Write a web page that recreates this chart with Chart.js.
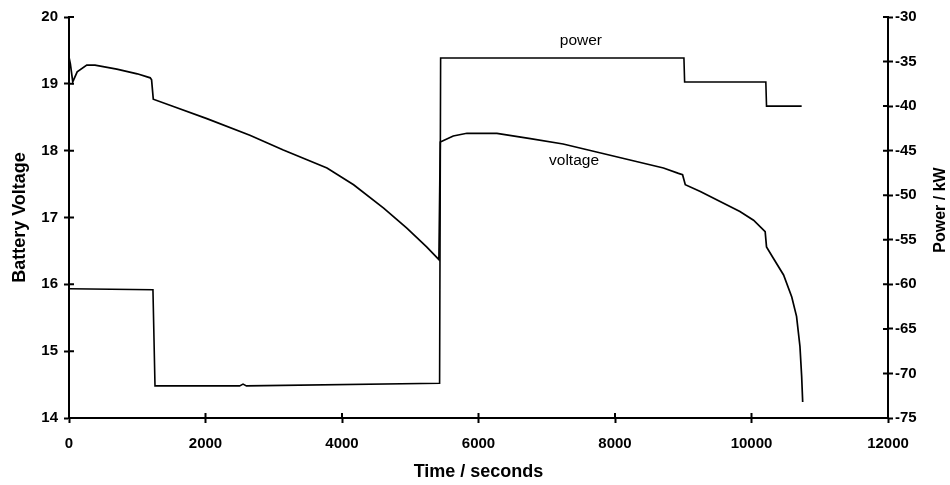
<!DOCTYPE html>
<html>
<head>
<meta charset="utf-8">
<script src="https://cdn.jsdelivr.net/npm/chart.js@4.4.1/dist/chart.umd.min.js"></script>
<style>
  html, body { margin: 0; padding: 0; background: #fff; }
  #wrap { width: 950px; height: 485px; }
</style>
</head>
<body>
<div id="wrap"><canvas id="batteryChart" width="950" height="485"></canvas></div>
<script>
// battery voltage trace (time in seconds)
const voltTime = [0, 20, 55, 120, 260, 380, 700, 1000, 1190, 1210, 1235, 1530, 2020, 2650, 3140, 3780, 4170, 4610, 4950, 5240, 5420, 5440, 5630, 5830, 6270, 6760, 7240, 7730, 8220, 8710, 8930, 8990, 9030, 9250, 9540, 9830, 10030, 10200, 10220, 10320, 10470, 10590, 10660, 10710, 10735, 10750];
const voltage = [19.4, 19.3, 19.03, 19.18, 19.28, 19.28, 19.22, 19.15, 19.09, 19.06, 18.77, 18.66, 18.48, 18.23, 18.01, 17.74, 17.49, 17.14, 16.84, 16.56, 16.37, 18.13, 18.22, 18.26, 18.26, 18.18, 18.10, 17.98, 17.86, 17.74, 17.66, 17.64, 17.49, 17.39, 17.24, 17.09, 16.96, 16.79, 16.56, 16.39, 16.14, 15.81, 15.52, 15.07, 14.62, 14.24];

// power demand profile (kW)
const powerTime = [0, 1230, 1260, 2500, 2550, 2600, 5430, 5445, 9010, 9020, 10210, 10220, 10735];
const power = [-60.5, -60.6, -71.4, -71.4, -71.2, -71.4, -71.1, -34.6, -34.6, -37.3, -37.3, -40.0, -40.0];

const xTicks = [0, 2000, 4000, 6000, 8000, 10000, 12000];
const voltTicks = [14, 15, 16, 17, 18, 19, 20];
const powerTicks = [-75, -70, -65, -60, -55, -50, -45, -40, -35, -30];

const curveLabels = [
    { text: 'power', x: 7500, y: 19.64 },
    { text: 'voltage', x: 7400, y: 17.85 }
];

const fontFamily = '"Liberation Sans", Arial, sans-serif';
const tickFont = { family: fontFamily, size: 15, weight: 'bold' };
const titleFont = { family: fontFamily, size: 18, weight: 'bold' };

// ticks that cross the axis line, right-hand title, in-plot labels
const extras = {
    id: 'extras',
    afterDraw(chart) {
        const c = chart.ctx;
        const { x, y, y2 } = chart.scales;
        c.save();
        c.strokeStyle = '#000';
        c.lineWidth = 2;
        c.beginPath();
        xTicks.forEach(v => {
            const px = x.getPixelForValue(v);
            c.moveTo(px, y.bottom);
            c.lineTo(px, y.bottom - 5);
        });
        voltTicks.forEach(v => {
            const py = y.getPixelForValue(v);
            c.moveTo(x.left, py);
            c.lineTo(x.left + 5, py);
        });
        powerTicks.forEach(v => {
            const py = y2.getPixelForValue(v);
            c.moveTo(x.right, py);
            c.lineTo(x.right - 5, py);
        });
        c.stroke();

        c.fillStyle = '#000';
        c.textAlign = 'center';
        c.textBaseline = 'middle';
        c.font = '15.5px ' + fontFamily;
        curveLabels.forEach(l => {
            c.fillText(l.text, x.getPixelForValue(l.x), y.getPixelForValue(l.y));
        });

        c.translate(941, 210);
        c.rotate(-Math.PI / 2);
        c.font = 'bold 16px ' + fontFamily;
        c.fillText('Power / kW', 0, 0);
        c.restore();
    }
};

const ctx = document.getElementById('batteryChart').getContext('2d');

new Chart(ctx, {
    type: 'line',
    data: {
        datasets: [{
            label: 'voltage',
            data: voltTime.map((t, i) => ({ x: t, y: voltage[i] })),
            yAxisID: 'y',
            borderColor: '#000',
            borderWidth: 1.7,
            pointRadius: 0,
            tension: 0
        }, {
            label: 'power',
            data: powerTime.map((t, i) => ({ x: t, y: power[i] })),
            yAxisID: 'y2',
            borderColor: '#000',
            borderWidth: 1.6,
            pointRadius: 0,
            tension: 0
        }]
    },
    options: {
        responsive: false,
        animation: false,
        layout: { padding: { top: 17, left: 0, right: 0, bottom: 0 } },
        scales: {
            x: {
                type: 'linear',
                min: 0,
                max: 12000,
                afterBuildTicks: s => { s.ticks = xTicks.map(v => ({ value: v })); },
                afterFit: s => { s.height = 67; },
                border: { color: '#000', width: 2 },
                grid: { drawOnChartArea: false, color: '#000', tickLength: 5, tickWidth: 2 },
                ticks: { color: '#000', font: tickFont, padding: 12, maxRotation: 0, callback: v => String(v) },
                title: { display: true, text: 'Time / seconds', color: '#000', font: titleFont, padding: { top: 0, bottom: 2 } }
            },
            y: {
                position: 'left',
                min: 14,
                max: 20,
                afterBuildTicks: s => { s.ticks = voltTicks.map(v => ({ value: v })); },
                afterFit: s => { s.width = 69; },
                border: { color: '#000', width: 2 },
                grid: { drawOnChartArea: false, color: '#000', tickLength: 5, tickWidth: 2 },
                ticks: { color: '#000', font: tickFont, padding: 6 },
                title: { display: true, text: 'Battery Voltage', color: '#000', font: titleFont, padding: { top: 9, bottom: 0 } }
            },
            y2: {
                position: 'right',
                min: -75,
                max: -30,
                afterBuildTicks: s => { s.ticks = powerTicks.map(v => ({ value: v })); },
                afterFit: s => { s.width = 62; },
                border: { color: '#000', width: 2 },
                grid: { drawOnChartArea: false, color: '#000', tickLength: 5, tickWidth: 2 },
                ticks: { color: '#000', font: tickFont, padding: 2 }
            }
        },
        plugins: {
            legend: { display: false },
            tooltip: { enabled: false }
        }
    },
    plugins: [extras]
});
</script>
</body>
</html>
